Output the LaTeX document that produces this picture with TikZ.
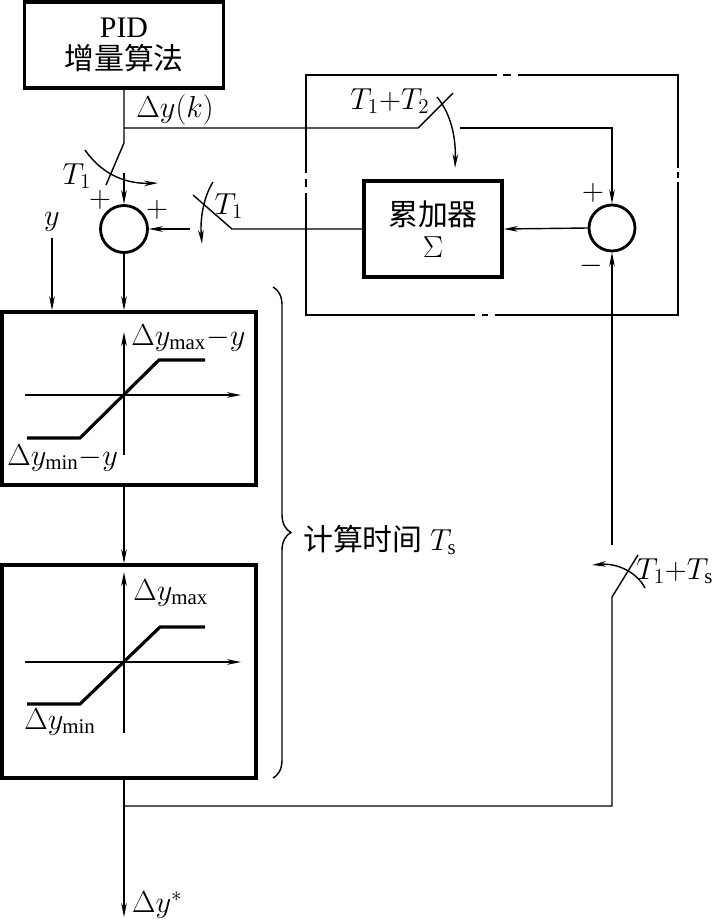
\documentclass[tikz,border=0pt]{standalone}
\usepackage{fontspec}
\setmainfont{Liberation Serif}
\newfontfamily\cjk{Noto Sans CJK SC}
\usetikzlibrary{arrows.meta, calc, decorations.pathreplacing}

\begin{document}
\begin{tikzpicture}[x=0.02cm, y=-0.02cm, >={Stealth[length=8pt,width=3.2pt]},
  every node/.style={font=\fontsize{17}{20}\selectfont},
  wire/.style={line width=0.8pt},
  blk/.style={draw, line width=2pt, inner sep=0pt},
  junc/.style={draw, circle, line width=1.6pt, minimum size=0.94cm, inner sep=0pt},
  curve/.style={line width=1.8pt},
  frame/.style={line width=0.8pt}]
  \useasboundingbox (0,0) rectangle (717,920);

  % blocks
  \node[blk, minimum width=3.98cm, minimum height=1.72cm, align=center] (pid) at (124,45) {PID\\[-2pt]{\cjk 增量算法}};
  \node[junc] (sum1) at (124,229) {};
  \node[junc, minimum size=0.92cm] (sum2) at (612,228) {};
  \node[blk, minimum width=2.76cm, minimum height=1.92cm, align=center] (acc) at (433,229) {{\cjk 累加器}\\[-2pt]$\Sigma$};
  \node[blk, minimum width=5.08cm, minimum height=3.46cm] (sat1) at (129,398.5) {};
  \node[blk, minimum width=5.08cm, minimum height=4.26cm] (sat2) at (129,671.5) {};

  % switch points
  \coordinate (k1) at (124,128);
  \coordinate (sw1a) at (124,143);
  \coordinate (sw1b) at (106,185);
  \coordinate (sw1c) at (124,173);
  \coordinate (sw2a) at (418,128);
  \coordinate (sw2b) at (453,93);
  \coordinate (sw2c) at (460,128);
  \coordinate (sw3a) at (232,229);
  \coordinate (sw3b) at (193,195);
  \coordinate (sw3c) at (190,229);
  \coordinate (sw4a) at (612,597);
  \coordinate (sw4b) at (638,555);
  \coordinate (sw4c) at (612,545);
  \coordinate (fb) at (124,806);
  \coordinate (out) at (124,917);

  % labels
  \node (dyk) at (175,110) {$\Delta y(k)$};
  \node (t1a) at (77,176) {$T_1$};
  \node at (100,200) {$+$};
  \node at (157,210) {$+$};
  \node (t1b) at (229,206) {$T_1$};
  \node (t12) at (390,101) {$T_1{+}T_2$};
  \node at (593,193) {$+$};
  \node at (591,266) {$-$};
  \node[anchor=west, inner sep=0pt] (t1s) at (636,571) {$T_1{+}T_{\mathrm{s}}$};
  \node[anchor=west, inner sep=1pt] (dys) at (130,905) {$\Delta y^*$};
  \node (ylab) at (52,222) {$y$};

  % connectors
  \draw[wire] (pid.south) -- (sw1a) -- (sw1b);
  \draw[wire] (k1) -- (sw2a) -- (sw2b);
  \draw[wire, ->] (sw2c) -| (sum2.north);
  \draw[wire, ->] (sw1c) -- (sum1.north);
  \draw[wire] (acc.west) -- (sw3a) -- (sw3b);
  \draw[wire, ->] (sw3c) -- (sum1.east);
  \draw[wire, ->] (sum2.west) -- (acc.east);
  \draw[wire, ->] (sum1.south) -- (sat1.north -| sum1);
  \draw[wire, ->] (ylab) -- (ylab |- sat1.north);
  \draw[wire, ->] (sat1.south -| sum1) -- (sat2.north -| sum1);
  \draw[wire, ->] (sat2.south -| sum1) -- (out);
  \draw[wire] (fb) -| (sw4a) -- (sw4b);
  \draw[wire, ->] (sw4c) -- (sum2.south);

  % switch actuation
  \draw[wire, ->] (85,150) .. controls (103,176) and (128,184) .. (158,183);
  \draw[wire, ->] (213,182) .. controls (203,198) and (200,220) .. (202,244);
  \draw[wire, ->] (437,97) .. controls (452,115) and (456,140) .. (455,168);
  \draw[wire, ->] (645,588) .. controls (636,571) and (616,563) .. (592,565);

  % frame round the accumulator
  \draw[frame] (497,75) -- (306,75) -- (306,173);
  \draw[frame] (306,193) -- (306,315) -- (475,315);
  \draw[frame] (495,315) -- (678,315) -- (678,182);
  \draw[frame] (678,168) -- (678,75) -- (518,75);
  \draw[frame] (503,75) -- (511,75);
  \draw[frame] (306,179) -- (306,187);
  \draw[frame] (678,172) -- (678,178);
  \draw[frame] (482,315) -- (488,315);

  % limiter curves
  \draw[wire, ->] (124,455) -- (124,332);
  \draw[wire, ->] (25,395) -- (241,395);
  \draw[curve] (27,438) -- (80,438) -- (159,360) -- (205,360);
  \node[anchor=west, inner sep=0pt] at (131,338) {$\Delta y_{\mathrm{max}}{-}y$};
  \node[anchor=west, inner sep=0pt] at (7,458) {$\Delta y_{\mathrm{min}}{-}y$};

  \draw[wire, ->] (124,733) -- (124,572);
  \draw[wire, ->] (25,662) -- (241,662);
  \draw[curve] (27,704) -- (80,704) -- (160,627) -- (205,627);
  \node[anchor=west, inner sep=0pt] at (133,593) {$\Delta y_{\mathrm{max}}$};
  \node[anchor=west, inner sep=0pt] at (24,722) {$\Delta y_{\mathrm{min}}$};

  % brace
  \draw[wire, decorate, decoration={brace, amplitude=0.36cm}] (273,287) -- (273,778);
  \node[anchor=west] (ts) at (297,540) {{\cjk 计算时间} $T_{\mathrm{s}}$};
\end{tikzpicture}
\end{document}
